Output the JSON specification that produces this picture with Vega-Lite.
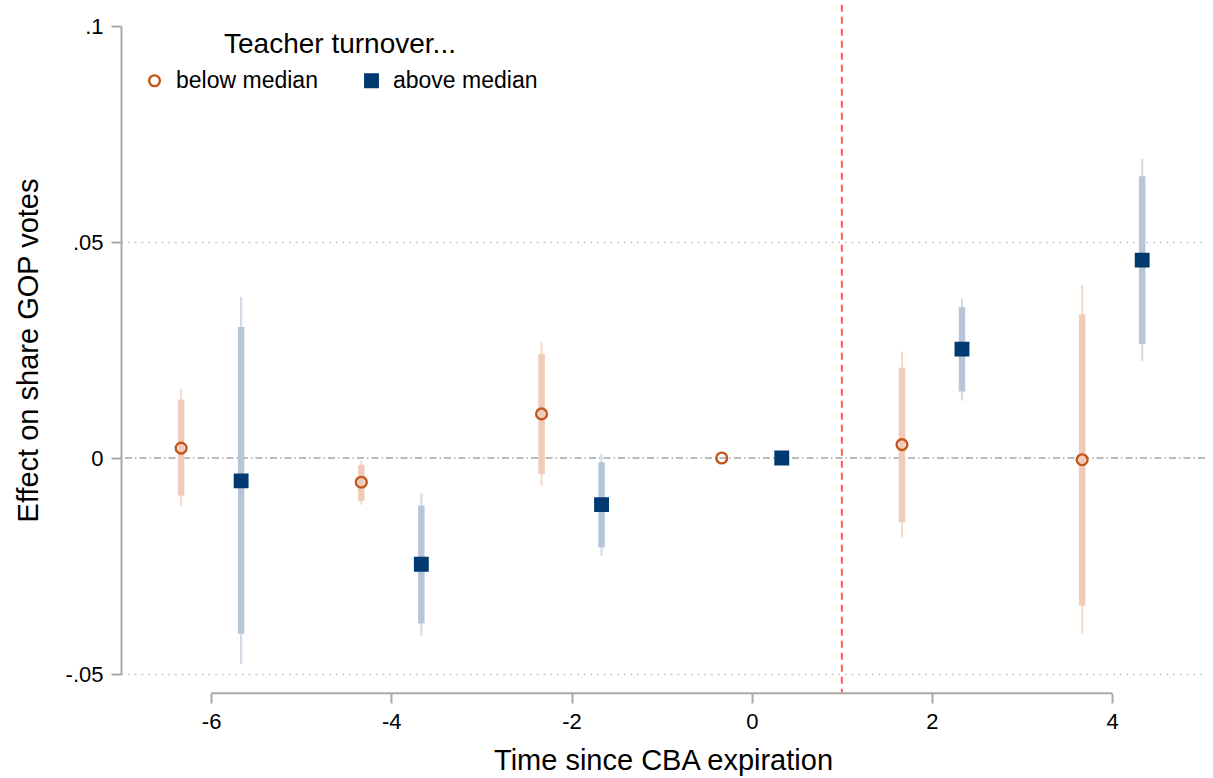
{
  "$schema": "https://vega.github.io/schema/vega-lite/v6.json",
  "width": 1084,
  "height": 648,
  "autosize": {"type": "none"},
  "padding": {"left": 121, "top": 26, "right": 8, "bottom": 104},
  "background": "white",
  "config": {
    "font": "Liberation Sans",
    "view": {"stroke": null},
    "axis": {
      "labelColor": "black",
      "titleColor": "black",
      "titleFontWeight": "normal",
      "tickColor": "#a9a9a9",
      "tickWidth": 2,
      "domainColor": "#a9a9a9",
      "domainWidth": 2
    }
  },
  "datasets": {
    "estimates": [
      {"group": "below median", "t": -6.333, "b": 0.0023, "lo90": -0.0087, "hi90": 0.0135, "lo95": -0.0110, "hi95": 0.0160},
      {"group": "below median", "t": -4.333, "b": -0.0056, "lo90": -0.0099, "hi90": -0.0016, "lo95": -0.0108, "hi95": -0.0006},
      {"group": "below median", "t": -2.333, "b": 0.0102, "lo90": -0.0037, "hi90": 0.0241, "lo95": -0.0064, "hi95": 0.0269},
      {"group": "below median", "t": -0.333, "b": 0.0},
      {"group": "below median", "t": 1.667, "b": 0.0031, "lo90": -0.0149, "hi90": 0.0209, "lo95": -0.0184, "hi95": 0.0246},
      {"group": "below median", "t": 3.667, "b": -0.0004, "lo90": -0.0342, "hi90": 0.0333, "lo95": -0.0407, "hi95": 0.0400},
      {"group": "above median", "t": -5.667, "b": -0.0053, "lo90": -0.0407, "hi90": 0.0303, "lo95": -0.0477, "hi95": 0.0373},
      {"group": "above median", "t": -3.667, "b": -0.0246, "lo90": -0.0383, "hi90": -0.0110, "lo95": -0.0411, "hi95": -0.0081},
      {"group": "above median", "t": -1.667, "b": -0.0108, "lo90": -0.0207, "hi90": -0.0010, "lo95": -0.0226, "hi95": 0.0009},
      {"group": "above median", "t": 0.333, "b": 0.0},
      {"group": "above median", "t": 2.333, "b": 0.0252, "lo90": 0.0154, "hi90": 0.0349, "lo95": 0.0133, "hi95": 0.0370},
      {"group": "above median", "t": 4.333, "b": 0.0458, "lo90": 0.0264, "hi90": 0.0652, "lo95": 0.0225, "hi95": 0.0692}
    ]
  },
  "data": {"name": "estimates"},
  "layer": [
    {
      "data": {"values": [{"expiration": 1}]},
      "mark": {"type": "rule", "color": "#ff5c5c", "strokeWidth": 2, "strokeDash": [7, 5]},
      "encoding": {
        "x": {"field": "expiration", "type": "quantitative"},
        "y": {"datum": 0.1049, "type": "quantitative"},
        "y2": {"datum": -0.05447}
      }
    },
    {
      "data": {"values": [{"ref": 0}]},
      "mark": {"type": "rule", "color": "#a6a6a6", "strokeWidth": 1.5, "strokeDash": [7, 3, 1.5, 3]},
      "encoding": {"y": {"field": "ref", "type": "quantitative"}}
    },
    {
      "data": {"values": [{"from": -6, "to": 4}]},
      "mark": {"type": "rule", "color": "#a9a9a9", "strokeWidth": 2},
      "encoding": {
        "x": {"field": "from", "type": "quantitative"},
        "x2": {"field": "to"},
        "y": {"datum": -0.05447, "type": "quantitative"}
      }
    },
    {
      "transform": [{"filter": "datum.group === 'below median'"}],
      "mark": {"type": "rule", "color": "#f4dccf", "strokeWidth": 2.2},
      "encoding": {"x": {"field": "t", "type": "quantitative"}, "y": {"field": "lo95", "type": "quantitative"}, "y2": {"field": "hi95"}}
    },
    {
      "transform": [{"filter": "datum.group === 'above median'"}],
      "mark": {"type": "rule", "color": "#d3dde9", "strokeWidth": 2.2},
      "encoding": {"x": {"field": "t", "type": "quantitative"}, "y": {"field": "lo95", "type": "quantitative"}, "y2": {"field": "hi95"}}
    },
    {
      "transform": [{"filter": "datum.group === 'below median'"}],
      "mark": {"type": "rule", "color": "#efccb9", "strokeWidth": 6.5},
      "encoding": {"x": {"field": "t", "type": "quantitative"}, "y": {"field": "lo90", "type": "quantitative"}, "y2": {"field": "hi90"}}
    },
    {
      "transform": [{"filter": "datum.group === 'above median'"}],
      "mark": {"type": "rule", "color": "#b6c6d7", "strokeWidth": 6.5},
      "encoding": {"x": {"field": "t", "type": "quantitative"}, "y": {"field": "lo90", "type": "quantitative"}, "y2": {"field": "hi90"}}
    },
    {
      "mark": {"type": "point", "strokeWidth": 2.4, "opacity": 1},
      "encoding": {
        "x": {
          "field": "t",
          "type": "quantitative",
          "scale": {"domain": [-7.0, 5.03], "nice": false, "zero": false},
          "axis": {
            "values": [-6, -4, -2, 0, 2, 4],
            "labelExpr": "'' + datum.value",
            "domain": false,
            "grid": false,
            "offset": 19,
            "tickSize": 10,
            "labelFontSize": 22,
            "labelPadding": 8,
            "title": "Time since CBA expiration",
            "titleFontSize": 29,
            "titlePadding": 14
          }
        },
        "y": {
          "field": "b",
          "type": "quantitative",
          "scale": {"domain": [-0.05, 0.1], "nice": false, "zero": false},
          "axis": {
            "values": [-0.05, 0, 0.05, 0.1],
            "labelExpr": "datum.value == 0 ? '0' : (datum.value < 0 ? '-' : '') + replace(format(abs(datum.value), '.2~f'), '0.', '.')",
            "tickSize": 10,
            "labelFontSize": 22,
            "labelPadding": 8,
            "grid": true,
            "gridColor": "#bdbdbd",
            "gridWidth": 1.5,
            "gridDash": [1.5, 5.2],
            "gridOpacity": {"condition": {"test": "datum.value == 0 || datum.value > 0.09", "value": 0}, "value": 1},
            "title": "Effect on share GOP votes",
            "titleFontSize": 29,
            "titlePadding": 22
          }
        },
        "shape": {
          "field": "group",
          "type": "nominal",
          "scale": {"domain": ["below median", "above median"], "range": ["circle", "square"]},
          "legend": {
            "title": "Teacher turnover...",
            "orient": "none",
            "legendX": 22,
            "legendY": 5,
            "direction": "horizontal",
            "titleAnchor": "middle",
            "titleFontSize": 28,
            "titleFontWeight": "normal",
            "titleColor": "black",
            "titleLimit": 600,
            "titlePadding": 10,
            "labelFontSize": 23,
            "labelColor": "black",
            "labelLimit": 300,
            "columnPadding": 42,
            "labelOffset": 10,
            "symbolStrokeWidth": 2.4
          }
        },
        "fill": {
          "field": "group",
          "type": "nominal",
          "scale": {"domain": ["below median", "above median"], "range": ["transparent", "#003a70"]},
          "legend": {"title": "Teacher turnover..."}
        },
        "stroke": {
          "field": "group",
          "type": "nominal",
          "scale": {"domain": ["below median", "above median"], "range": ["#c5561b", "#003a70"]},
          "legend": {"title": "Teacher turnover..."}
        },
        "size": {
          "field": "group",
          "type": "nominal",
          "scale": {"domain": ["below median", "above median"], "range": [115, 156]},
          "legend": {"title": "Teacher turnover..."}
        }
      }
    }
  ]
}
